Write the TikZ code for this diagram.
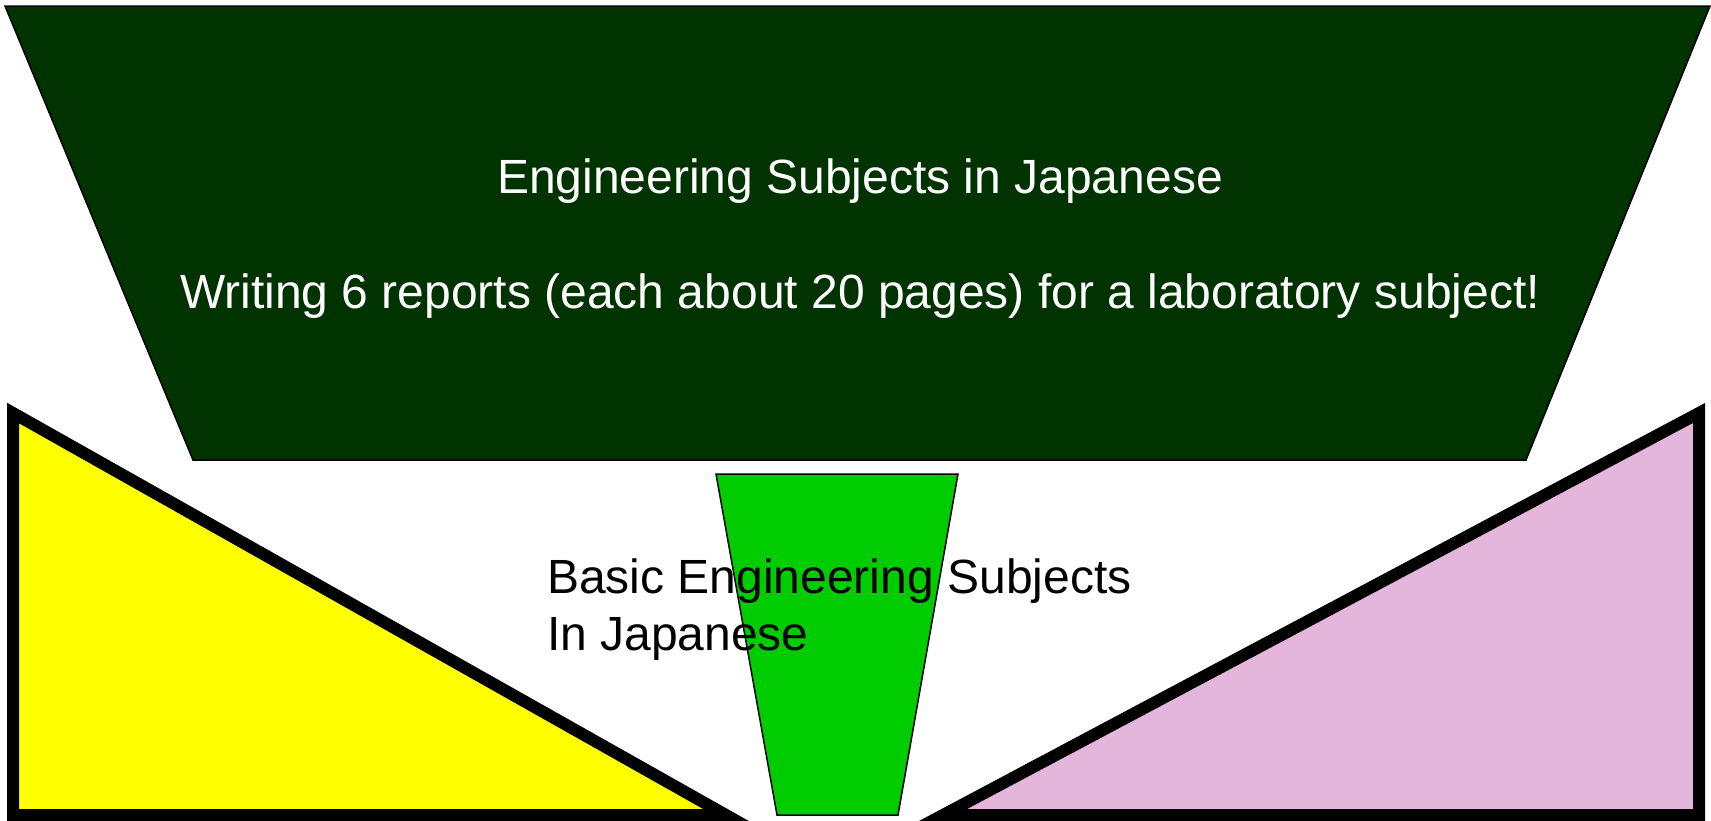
\documentclass[tikz,border=0pt]{standalone}
\usepackage{fontspec}
\setmainfont{Liberation Sans}
\definecolor{darkband}{HTML}{003300}
\definecolor{leafgreen}{HTML}{00CC00}
\definecolor{lilac}{HTML}{E4B6DC}
\definecolor{lemon}{HTML}{FFFF00}
\begin{document}
\begin{tikzpicture}[x=1pt,y=-1pt,
    every node/.style={inner sep=0pt,font=\fontsize{48}{57}\selectfont},
    thinline/.style={draw=black,line width=1.5pt},
    thickline/.style={draw=black,line width=12pt}]
    \useasboundingbox (0,0) rectangle (1711,820);
    \clip (0,0) rectangle (1711,820);
    \filldraw[thinline,fill=darkband] (5,6) -- (1710,6) -- (1526,460) -- (193,460) -- cycle;
    \filldraw[thickline,fill=lemon] (13,413) -- (726,815) -- (13,815) -- cycle;
    \filldraw[thickline,fill=lilac] (1699,413) -- (1699,815) -- (943,815) -- cycle;
    \filldraw[thinline,fill=leafgreen] (716,474) -- (958,474) -- (898,815) -- (777,815) -- cycle;
    \node[anchor=base,text=white] (title) at (860,193) {Engineering Subjects in Japanese};
    \node[anchor=base,text=white] (task) at (860,308) {Writing 6 reports (each about 20 pages) for a laboratory subject!};
    \node[anchor=base west] (basic) at (547,593) {Basic Engineering Subjects};
    \node[anchor=base west] (injp) at (547,650) {In Japanese};
\end{tikzpicture}
\end{document}
